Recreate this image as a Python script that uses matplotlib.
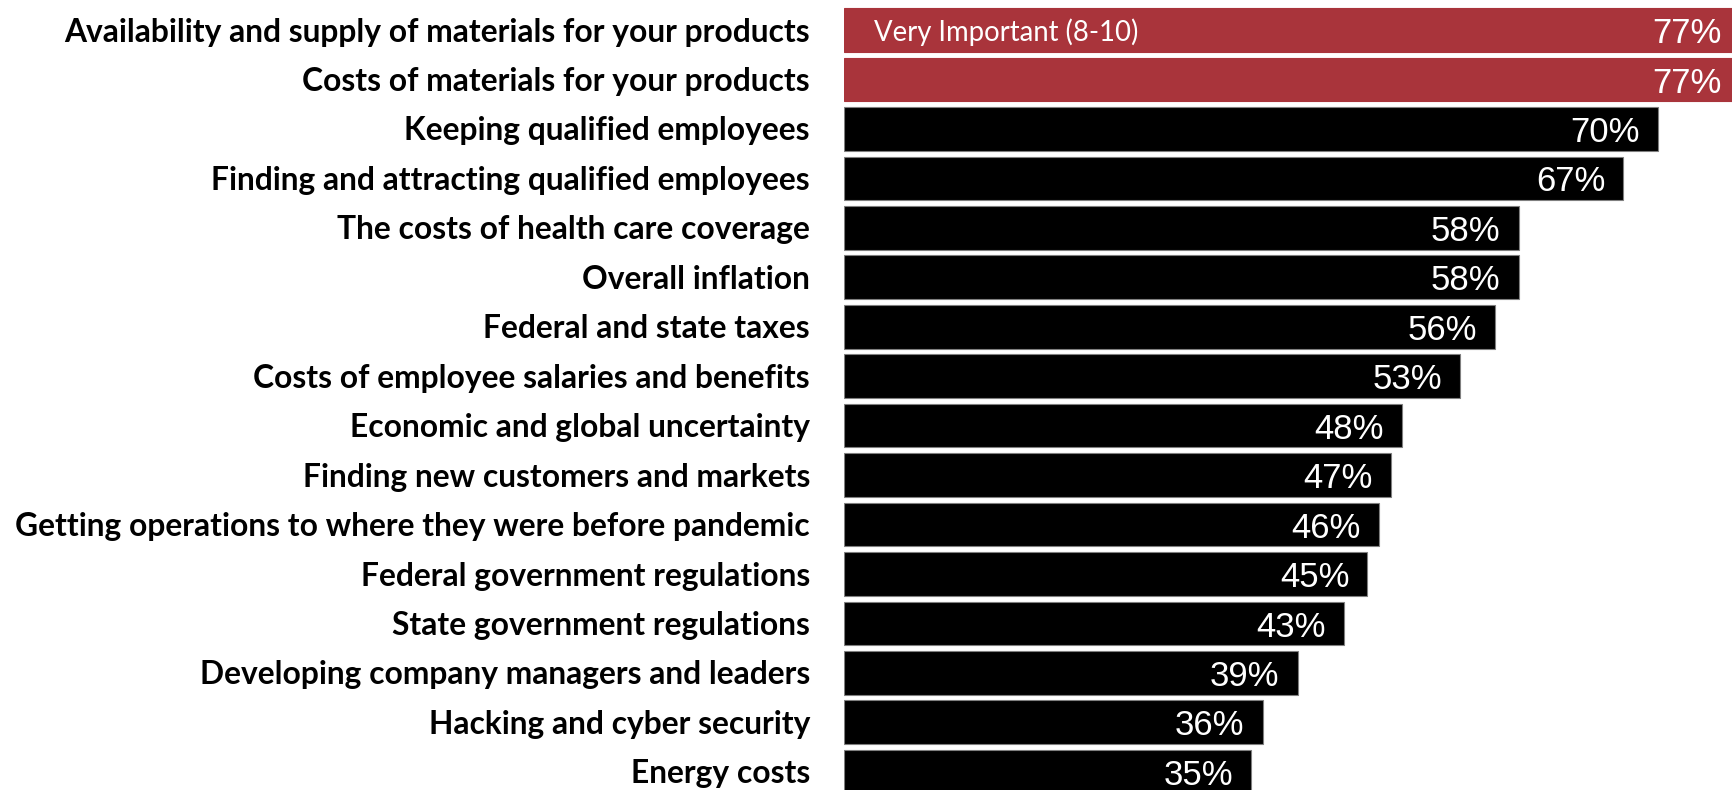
import matplotlib
matplotlib.use("Agg")
import matplotlib.pyplot as plt

categories = [
    "Availability and supply of materials for your products",
    "Costs of materials for your products",
    "Keeping qualified employees",
    "Finding and attracting qualified employees",
    "The costs of health care coverage",
    "Overall inflation",
    "Federal and state taxes",
    "Costs of employee salaries and benefits",
    "Economic and global uncertainty",
    "Finding new customers and markets",
    "Getting operations to where they were before pandemic",
    "Federal government regulations",
    "State government regulations",
    "Developing company managers and leaders",
    "Hacking and cyber security",
    "Energy costs",
]
values = [77, 77, 70, 67, 58, 58, 56, 53, 48, 47, 46, 45, 43, 39, 36, 35]
highlight = [True, True] + [False] * 14
legend_label = "Very Important (8-10)"

RED = "#A9343B"
W, H = 1733, 790
fig = plt.figure(figsize=(W / 100, H / 100), dpi=100)
left_px = 844
ax = fig.add_axes([left_px / W, 0, (W - left_px) / W, 1])

ypos = list(range(len(categories)))
colors = [RED if h else "black" for h in highlight]
edges = [RED if h else "#7f7f7f" for h in highlight]
ax.barh(ypos, values, height=0.884, color=colors, edgecolor=edges, linewidth=0.8)

ax.set_xlim(0, 76.44)
ax.set_ylim(15.369, -0.607)
for s in ax.spines.values():
    s.set_visible(False)
ax.set_xticks([])
ax.set_yticks([])

for y, lab in zip(ypos, categories):
    ax.annotate(lab, xy=(0, y), xytext=(-24.5, -1.5), textcoords="offset points",
                ha="right", va="center", color="black", fontsize=22.9,
                fontfamily="Lato", fontweight="bold", annotation_clip=False)

for y, v in zip(ypos, values):
    ax.annotate(f"{v}%", xy=(v, y), xytext=(-13, -2.6), textcoords="offset points",
                ha="right", va="center", color="white", fontsize=25,
                fontfamily="Liberation Sans", annotation_clip=False)

ax.annotate(legend_label, xy=(0, 0), xytext=(21.5, -1.5), textcoords="offset points",
            ha="left", va="center", color="white", fontsize=19.8, fontfamily="Lato")

fig.savefig("out.png", dpi=100)
